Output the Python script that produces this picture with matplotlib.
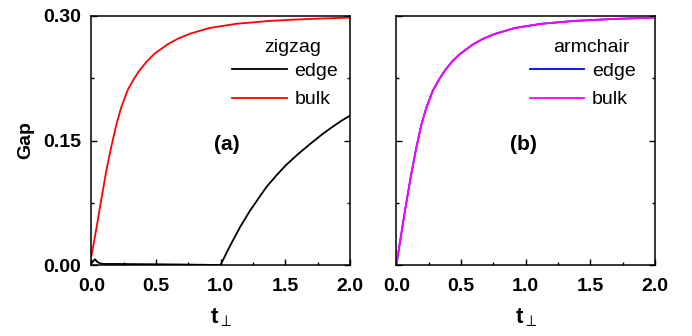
import matplotlib
matplotlib.use("Agg")
import matplotlib.pyplot as plt
from matplotlib.ticker import MultipleLocator

plt.rcParams['font.family'] = ['Liberation Sans', 'DejaVu Sans']
plt.rcParams['mathtext.fontset'] = 'custom'
plt.rcParams['mathtext.rm'] = 'Liberation Sans'
plt.rcParams['mathtext.bf'] = 'Liberation Sans:bold'
plt.rcParams['mathtext.it'] = 'Liberation Sans:italic'

# ---- data ----
zz_bulk_t = [0, 0.039, 0.078, 0.116, 0.155, 0.193, 0.232, 0.283, 0.33, 0.373, 0.43, 0.488, 0.591,
             0.668, 0.760, 0.914, 1.119, 1.375, 1.683, 2.0]
zz_bulk_gap = [0.0107, 0.044, 0.080, 0.114, 0.143, 0.169, 0.1905, 0.2115, 0.2245, 0.2345, 0.2455, 0.2545, 0.2660,
               0.2725, 0.2785, 0.2855, 0.2905, 0.2940, 0.2964, 0.2980]

zz_edge_t = [0, 0.015, 0.029, 0.045, 0.068, 0.1, 0.2, 0.3, 0.5, 0.7, 0.9, 0.998,
             1.05, 1.095, 1.15, 1.224, 1.29, 1.353, 1.43, 1.508, 1.6, 1.688, 1.78, 1.868, 1.94, 2.0]
zz_edge_gap = [0.002, 0.005, 0.007, 0.004, 0.002, 0.0014, 0.0014, 0.0012, 0.001, 0.0007, 0.0003, 0.0,
               0.0165, 0.030, 0.046, 0.065, 0.080, 0.094, 0.108, 0.121, 0.134, 0.1455, 0.157, 0.167, 0.1745, 0.180]

ac_t = [0, 0.038, 0.077, 0.116, 0.154, 0.192, 0.231, 0.282, 0.33, 0.372, 0.43, 0.487, 0.590,
        0.667, 0.760, 0.914, 1.119, 1.375, 1.683, 2.0]
ac_edge_gap = [0.0, 0.037, 0.075, 0.110, 0.141, 0.168, 0.189, 0.2100, 0.2235, 0.2335, 0.2450, 0.2535, 0.2655,
               0.2722, 0.2783, 0.2854, 0.2905, 0.2940, 0.2964, 0.2980]
ac_bulk_gap = [0.0, 0.037, 0.075, 0.110, 0.141, 0.168, 0.189, 0.2100, 0.2235, 0.2335, 0.2450, 0.2535, 0.2655,
               0.2722, 0.2783, 0.2854, 0.2905, 0.2940, 0.2964, 0.2980]

x_ticks = [0.0, 0.5, 1.0, 1.5, 2.0]
x_ticklabels = ['0.0', '0.5', '1.0', '1.5', '2.0']
y_ticks = [0.00, 0.15, 0.30]
y_ticklabels = ['0.00', '0.15', '0.30']

fig = plt.figure(figsize=(6.92, 3.36), dpi=100)
axA = fig.add_axes([0.1320, 0.2110, 0.3740, 0.7416])
axB = fig.add_axes([0.5727, 0.2110, 0.3740, 0.7416])

lw = 1.3
axA.plot(zz_edge_t, zz_edge_gap, color='black', lw=lw, label='edge')
axA.plot(zz_bulk_t, zz_bulk_gap, color='#ff0000', lw=lw, label='bulk')
axB.plot(ac_t, ac_edge_gap, color='#0000ff', lw=lw, label='edge')
axB.plot(ac_t, ac_bulk_gap, color='#ff00ff', lw=lw, label='bulk')

for ax in (axA, axB):
    ax.set_xlim(0, 2.0)
    ax.set_ylim(0, 0.30)
    ax.set_xticks(x_ticks)
    ax.set_xticklabels(x_ticklabels, fontweight='bold', fontsize=14)
    ax.set_yticks(y_ticks)
    ax.xaxis.set_minor_locator(MultipleLocator(0.25))
    ax.yaxis.set_minor_locator(MultipleLocator(0.075))
    ax.tick_params(which='both', direction='in', top=False, right=True, width=1.0)
    ax.tick_params(which='major', length=4)
    ax.tick_params(which='minor', length=2.5)
    ax.tick_params(axis='x', which='major', pad=9.5)
    ax.tick_params(axis='y', which='major', pad=7.5)
    for s in ax.spines.values():
        s.set_linewidth(1.1)
    ax.set_xlabel(r'$\mathbf{t}_{\perp}$', fontsize=16, labelpad=8)

axA.set_yticklabels(y_ticklabels, fontweight='bold', fontsize=14)
axB.set_yticklabels([])
axA.set_ylabel('Gap', fontweight='bold', fontsize=14, labelpad=6)

axA.text(1.05, 0.145, '(a)', fontsize=15, fontweight='bold', ha='center', va='center')
axB.text(0.98, 0.145, '(b)', fontsize=15, fontweight='bold', ha='center', va='center')

# legend titles placed as text
axA.text(0.779, 0.873, 'zigzag', transform=axA.transAxes, fontsize=14, ha='center', va='center')
axB.text(0.753, 0.873, 'armchair', transform=axB.transAxes, fontsize=14, ha='center', va='center')

legA = axA.legend(loc='upper left', bbox_to_anchor=(0.545, 0.813),
                  frameon=False, fontsize=14, handlelength=2.8,
                  handletextpad=0.4, labelspacing=0.55, borderpad=0, borderaxespad=0)
legB = axB.legend(loc='upper left', bbox_to_anchor=(0.515, 0.813),
                  frameon=False, fontsize=14, handlelength=2.8,
                  handletextpad=0.4, labelspacing=0.55, borderpad=0, borderaxespad=0)

fig.savefig('out.png', dpi=100)
